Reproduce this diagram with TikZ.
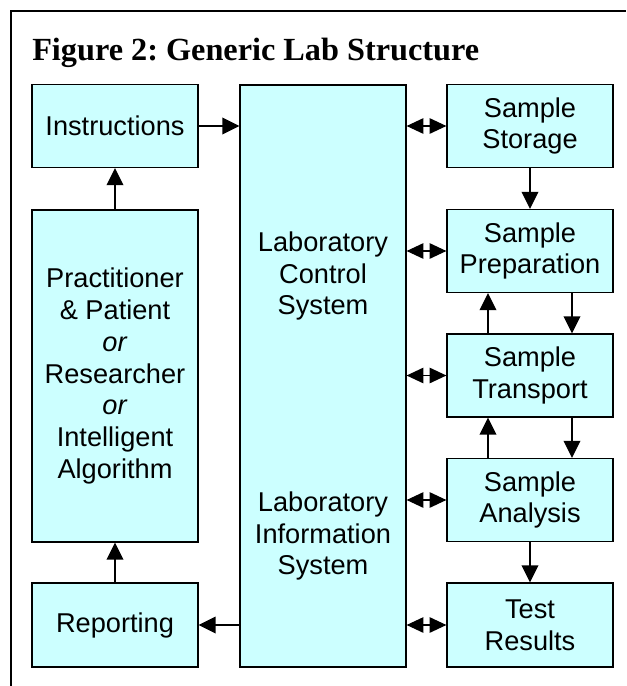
\documentclass[tikz,border=0pt]{standalone}
\usepackage{fontspec}
\setmainfont{Liberation Sans}
\newfontfamily\titlefont{Liberation Serif}
\usetikzlibrary{arrows.meta}
\definecolor{boxcyan}{HTML}{CCFFFF}
\frenchspacing
\begin{document}
\begin{tikzpicture}[x=0.75pt,y=-0.75pt,
  box/.style={draw, fill=boxcyan, line width=0.9pt, inner sep=0pt, align=center,
    minimum width=124.5pt, font=\fontsize{20.4}{23.8}\selectfont},
  lbl/.style={inner sep=0pt, align=center, font=\fontsize{20.4}{23.8}\selectfont},
  arr/.style={line width=1pt, -{Triangle[length=12.75pt,width=12.5pt]}},
  darr/.style={line width=1pt, {Triangle[length=12.5pt,width=11.5pt]}-{Triangle[length=12.5pt,width=11.5pt]}}]
\useasboundingbox (0,0) rectangle (626,686);
\draw[line width=1.5pt] (11,686) -- (11,11) -- (626,11);
\node[anchor=base west, inner sep=0pt, font=\titlefont\bfseries\fontsize{24.2}{27}\selectfont] (title) at (32,60.5) {Figure 2: Generic Lab Structure};
% left column
\node[box, minimum height=62.25pt] (ins) at (115,126) {Instructions};
\node[box, minimum height=249pt] (pra) at (115,376) {Practitioner\\\& Patient\\\textit{or}\\Researcher\\\textit{or}\\Intelligent\\Algorithm};
\node[box, minimum height=63pt] (rep) at (115,625) {Reporting};
% big box
\node[box, minimum height=436.5pt] (big) at (323,376) {};
\node[lbl] (lcs) at (323,276) {Laboratory\\Control\\System};
\node[lbl] (lis) at (323,536) {Laboratory\\Information\\System};
% right column
\node[box, minimum height=62.25pt] (sto) at (530,126) {Sample\\Storage};
\node[box, minimum height=62.25pt] (pre) at (530,251) {Sample\\Preparation};
\node[box, minimum height=62.25pt] (tra) at (530,375.5) {Sample\\Transport};
\node[box, minimum height=62.25pt] (ana) at (530,500) {Sample\\Analysis};
\node[box, minimum height=63pt] (res) at (530,625) {Test\\Results};
% arrows
\draw[arr] (ins.east) -- (ins.east -| big.west);
\draw[arr] (pra.north) -- (ins.south);
\draw[arr] (rep.north) -- (pra.south);
\draw[arr] (rep.east -| big.west) -- (rep.east);
\draw[arr] (sto.south) -- (pre.north);
\draw[arr] ([xshift=-31.5pt]tra.north) -- ([xshift=-31.5pt]pre.south);
\draw[arr] ([xshift=31.5pt]pre.south) -- ([xshift=31.5pt]tra.north);
\draw[arr] ([xshift=-31.5pt]ana.north) -- ([xshift=-31.5pt]tra.south);
\draw[arr] ([xshift=31.5pt]tra.south) -- ([xshift=31.5pt]ana.north);
\draw[arr] (ana.south) -- (res.north);
\foreach \n in {sto,pre,tra,ana,res}
  \draw[darr] (\n.west -| big.east) -- (\n.west);
\end{tikzpicture}
\end{document}
